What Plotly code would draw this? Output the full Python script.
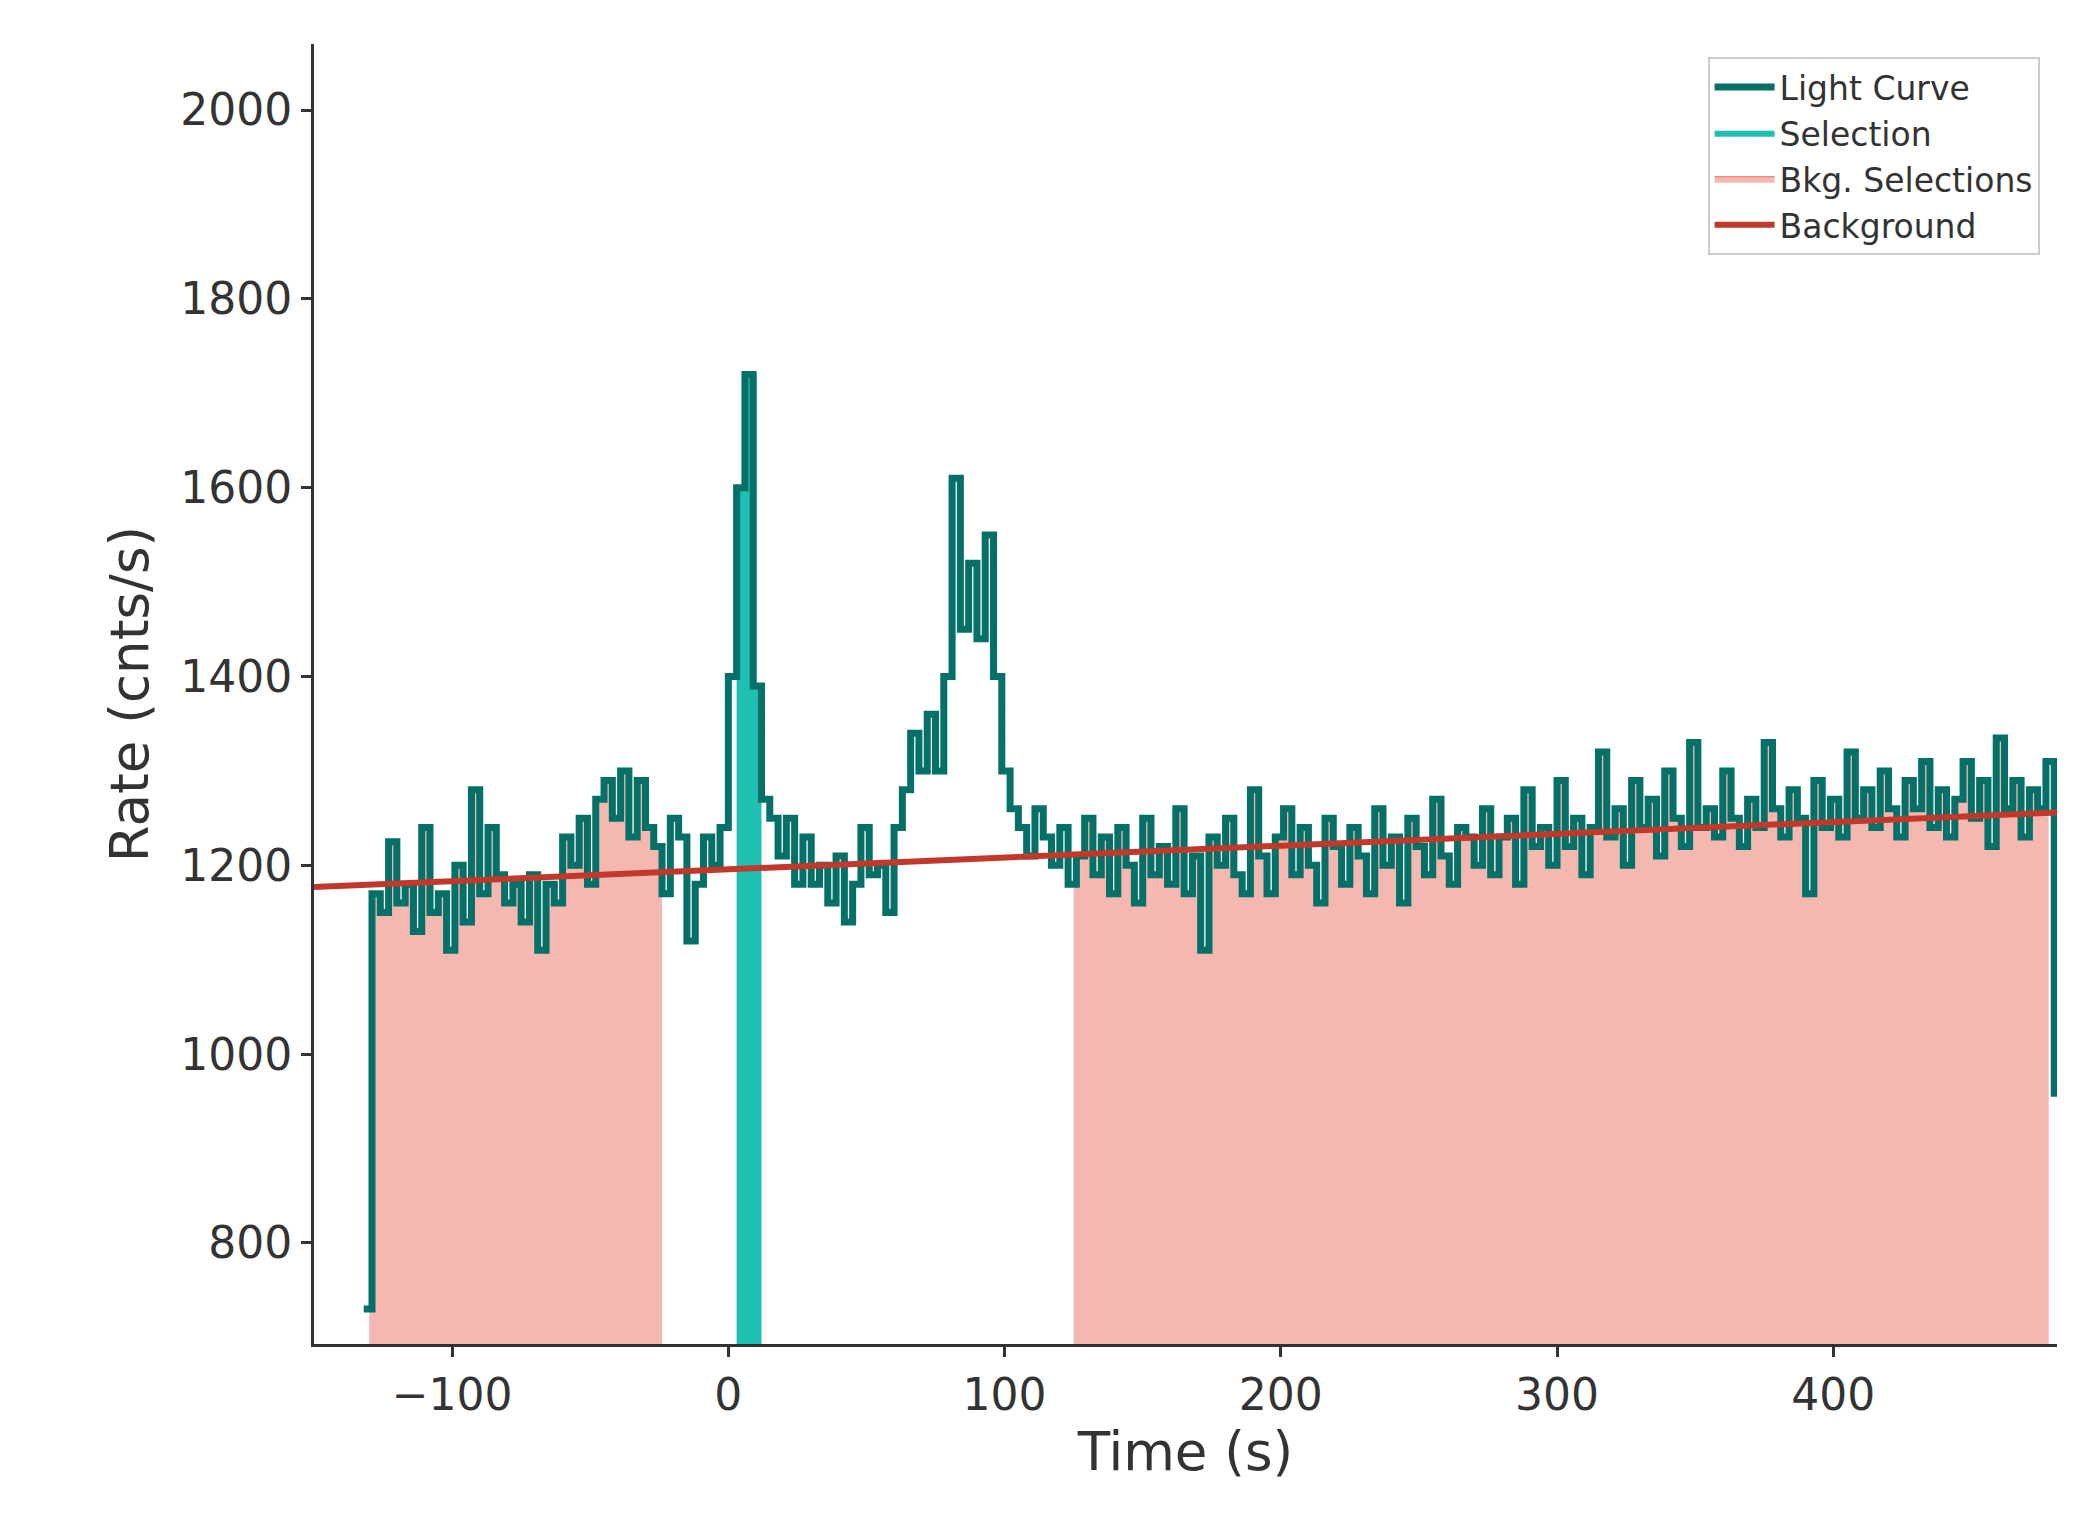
import plotly.graph_objects as go

# light curve, 3 s bins starting at -132 s (left edges)
bin_width = 3
t_start = -132
rate = [
    730, 1170, 1150, 1225, 1160, 1180, 1130, 1240, 1150, 1170,
    1110, 1200, 1140, 1280, 1170, 1240, 1190, 1160, 1180, 1140,
    1190, 1110, 1180, 1160, 1230, 1200, 1250, 1180, 1270, 1290,
    1250, 1300, 1230, 1290, 1240, 1220, 1170, 1250, 1230, 1120,
    1180, 1230, 1200, 1240, 1400, 1600, 1720, 1390, 1270, 1250,
    1210, 1250, 1180, 1230, 1180, 1200, 1160, 1210, 1140, 1180,
    1240, 1190, 1200, 1150, 1240, 1280, 1340, 1300, 1360, 1300,
    1400, 1610, 1450, 1520, 1440, 1550, 1400, 1300, 1260, 1240,
    1210, 1260, 1230, 1200, 1240, 1180, 1210, 1250, 1190, 1230,
    1170, 1240, 1200, 1160, 1250, 1190, 1220, 1180, 1260, 1170,
    1210, 1110, 1230, 1200, 1250, 1190, 1170, 1280, 1210, 1170,
    1230, 1260, 1190, 1240, 1200, 1160, 1250, 1220, 1180, 1240,
    1210, 1170, 1260, 1200, 1230, 1160, 1250, 1220, 1190, 1270,
    1210, 1180, 1240, 1230, 1200, 1260, 1190, 1230, 1250, 1180,
    1280, 1220, 1240, 1200, 1290, 1220, 1250, 1190, 1240, 1320,
    1230, 1260, 1200, 1290, 1240, 1270, 1210, 1300, 1250, 1220,
    1330, 1240, 1260, 1230, 1300, 1250, 1220, 1270, 1240, 1330,
    1260, 1230, 1280, 1250, 1170, 1290, 1240, 1270, 1230, 1320,
    1250, 1280, 1240, 1300, 1260, 1230, 1290, 1260, 1310, 1240,
    1280, 1230, 1270, 1310, 1250, 1290, 1220, 1335, 1260, 1290,
    1230, 1280, 1260, 1310, 955,
]
time = [t_start + bin_width * i for i in range(len(rate))]

sel_range = [3, 12]
bkg_ranges = [[-130, -24], [125, 478]]
bkg_x = [-150, 481]
bkg_y = [1177, 1256]

teal = '#057068'
sel_color = '#1fbfb3'
pink = 'rgba(240,150,140,0.68)'
red = '#c0392b'


def clip(lo, hi):
    xs, ys = [lo], [None]
    for i in range(len(time) - 1):
        a, b = time[i], time[i] + bin_width
        if b <= lo or a >= hi:
            continue
        xs.append(max(a, lo))
        ys.append(rate[i])
    ys[0] = ys[1]
    xs.append(hi)
    ys.append(ys[-1])
    return xs, ys


fig = go.Figure()
for k, (lo, hi) in enumerate(bkg_ranges):
    xs, ys = clip(lo, hi)
    fig.add_trace(go.Scatter(x=xs, y=ys, mode='lines', line=dict(shape='hv', width=1.5, color='rgba(240,130,120,0.9)'),
                             fill='tozeroy', fillcolor=pink, name='Bkg. Selections',
                             showlegend=k == 0, legendrank=3))
xs, ys = clip(*sel_range)
fig.add_trace(go.Scatter(x=xs, y=ys, mode='lines', line=dict(shape='hv', width=0, color=sel_color),
                         fill='tozeroy', fillcolor=sel_color, name='Selection', legendrank=2))
fig.add_trace(go.Scatter(x=time, y=rate, mode='lines', line=dict(shape='hv', width=7, color=teal),
                         name='Light Curve', legendrank=1))
fig.add_trace(go.Scatter(x=bkg_x, y=bkg_y, mode='lines', line=dict(width=6, color=red),
                         name='Background', legendrank=4))

fig.update_layout(
    width=2073, height=1540,
    paper_bgcolor='white', plot_bgcolor='white',
    font=dict(family='DejaVu Sans', size=44, color='#333'),
    margin=dict(l=306, r=24, t=36, b=204),
    legend=dict(x=0.99, y=0.99, xanchor='right', yanchor='top', bordercolor='#ccc', borderwidth=2,
                font=dict(size=33), bgcolor='white', itemwidth=60),
)
fig.update_xaxes(range=[-150, 481], showgrid=False, zeroline=False, showline=True, linecolor='#333', linewidth=3,
                 ticks='outside', ticklen=10, tickwidth=3, tickcolor='#333', tickvals=[-100, 0, 100, 200, 300, 400],
                 ticktext=['\u2212100', '0', '100', '200', '300', '400'],
                 title=dict(text='Time (s)', font=dict(size=53)))
fig.update_yaxes(range=[693, 2070], showgrid=False, zeroline=False, showline=True, linecolor='#333', linewidth=3,
                 ticks='outside', ticklen=10, tickwidth=3, tickcolor='#333', tickvals=[800, 1000, 1200, 1400, 1600, 1800, 2000],
                 title=dict(text='Rate (cnts/s)', font=dict(size=53)))

fig.write_html("out.html")
